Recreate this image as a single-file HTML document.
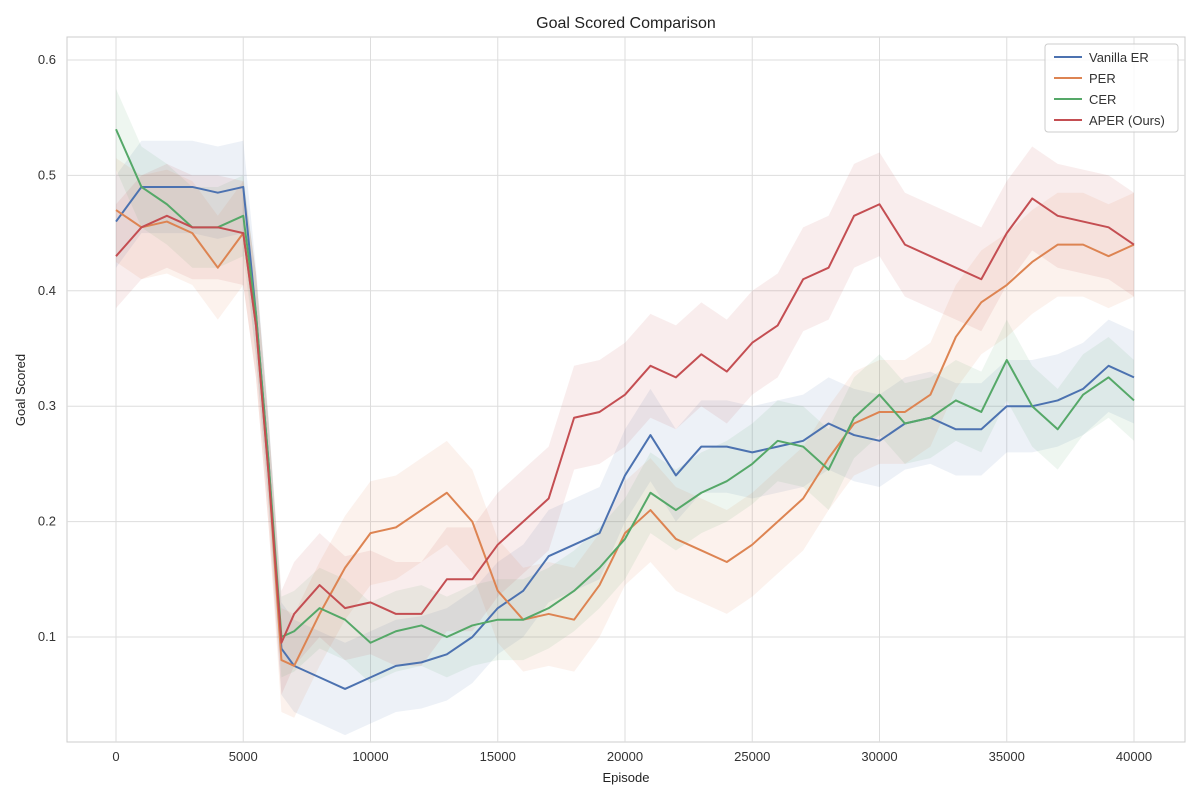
<!DOCTYPE html>
<html><head><meta charset="utf-8"><style>
html,body{margin:0;padding:0;background:#fff;}
svg{display:block;font-family:"Liberation Sans",sans-serif;}
</style></head><body>
<svg id="chart" width="1200" height="800">
<rect x="67" y="37" width="1118" height="705" fill="#fff" stroke="#ccc"/>
<g id="grid"></g><g id="bands"></g><g id="lines"></g><g id="ticks"></g>
<text x="626" y="28" text-anchor="middle" font-size="16" fill="#222">Goal Scored Comparison</text>
<text x="626" y="782" text-anchor="middle" font-size="13" fill="#222">Episode</text>
<text x="25" y="390" text-anchor="middle" font-size="13" fill="#222" transform="rotate(-90 25 390)">Goal Scored</text>
<g id="legend">
<rect x="1045" y="44" width="133" height="88" rx="3" fill="#fff" fill-opacity="0.85" stroke="#ccc"/>
</g>
</svg>
<script>
const episodes=[0,1000,2000,3000,4000,5000,5500,6000,6500,7000,8000,9000,10000,11000,12000,13000,14000,15000,16000,17000,18000,19000,20000,21000,22000,23000,24000,25000,26000,27000,28000,29000,30000,31000,32000,33000,34000,35000,36000,37000,38000,39000,40000];
const vanillaER=[0.46,0.49,0.49,0.49,0.485,0.49,0.38,0.25,0.09,0.075,0.065,0.055,0.065,0.075,0.078,0.085,0.1,0.125,0.14,0.17,0.18,0.19,0.24,0.275,0.24,0.265,0.265,0.26,0.265,0.27,0.285,0.275,0.27,0.285,0.29,0.28,0.28,0.3,0.3,0.305,0.315,0.335,0.325];
const per=[0.47,0.455,0.46,0.45,0.42,0.45,0.37,0.24,0.08,0.075,0.12,0.16,0.19,0.195,0.21,0.225,0.2,0.14,0.115,0.12,0.115,0.145,0.19,0.21,0.185,0.175,0.165,0.18,0.2,0.22,0.255,0.285,0.295,0.295,0.31,0.36,0.39,0.405,0.425,0.44,0.44,0.43,0.44];
const cer=[0.54,0.49,0.475,0.455,0.455,0.465,0.38,0.25,0.1,0.105,0.125,0.115,0.095,0.105,0.11,0.1,0.11,0.115,0.115,0.125,0.14,0.16,0.185,0.225,0.21,0.225,0.235,0.25,0.27,0.265,0.245,0.29,0.31,0.285,0.29,0.305,0.295,0.34,0.3,0.28,0.31,0.325,0.305];
const aper=[0.43,0.455,0.465,0.455,0.455,0.45,0.37,0.24,0.095,0.12,0.145,0.125,0.13,0.12,0.12,0.15,0.15,0.18,0.2,0.22,0.29,0.295,0.31,0.335,0.325,0.345,0.33,0.355,0.37,0.41,0.42,0.465,0.475,0.44,0.43,0.42,0.41,0.45,0.48,0.465,0.46,0.455,0.44];
const seriesNames=["Vanilla ER","PER","CER","APER (Ours)"];
const bandHalf=[0.04,0.045,0.035,0.045];
const xTicks=[0,5000,10000,15000,20000,25000,30000,35000,40000];
const yTicks=[0.1,0.2,0.3,0.4,0.5,0.6];
const colors=["#4c72b0","#dd8452","#55a868","#c44e52"];
const allSeries=[vanillaER,per,cer,aper];
const NS="http://www.w3.org/2000/svg";
const xs=v=>116+v*(1134-116)/40000;
const ys=v=>637-(v-0.1)*1154;
function mk(tag,attrs,parent){const e=document.createElementNS(NS,tag);for(const k in attrs)e.setAttribute(k,attrs[k]);document.getElementById(parent).appendChild(e);return e;}
xTicks.forEach(t=>{
 const l=mk("line",{x1:xs(t),x2:xs(t),y1:37,y2:742,stroke:"#ddd"},"grid");
 
 
 const tx=mk("text",{x:xs(t),y:761,"text-anchor":"middle","font-size":"13",fill:"#333"},"ticks");tx.textContent=t;
 
 
});
yTicks.forEach(t=>{
 const l=mk("line",{x1:67,x2:1185,y1:ys(t),y2:ys(t),stroke:"#ddd"},"grid");
 
 
 const tx=mk("text",{x:56,y:ys(t)+4,"text-anchor":"end","font-size":"13",fill:"#333"},"ticks");tx.textContent=t.toFixed(1);
 
 
});
allSeries.forEach((s,i)=>{
 const up=s.map((v,j)=>xs(episodes[j])+","+ys(v+bandHalf[i]));
 const dn=s.map((v,j)=>xs(episodes[j])+","+ys(v-bandHalf[i])).reverse();
 const b=mk("polygon",{points:up.concat(dn).join(" "),fill:colors[i],"fill-opacity":"0.1"},"bands");
 
 
 const p=mk("polyline",{points:s.map((v,j)=>xs(episodes[j])+","+ys(v)).join(" "),fill:"none",stroke:colors[i],"stroke-width":"2","stroke-linejoin":"round"},"lines");
 
 
 const ly=57+i*21;
 const ll=mk("line",{x1:1054,x2:1082,y1:ly,y2:ly,stroke:colors[i],"stroke-width":"2"},"legend");
 
 
 const lt=mk("text",{x:1089,y:ly+5,"font-size":"13",fill:"#333"},"legend");lt.textContent=seriesNames[i];
 
 
});
</script>
</body></html>
